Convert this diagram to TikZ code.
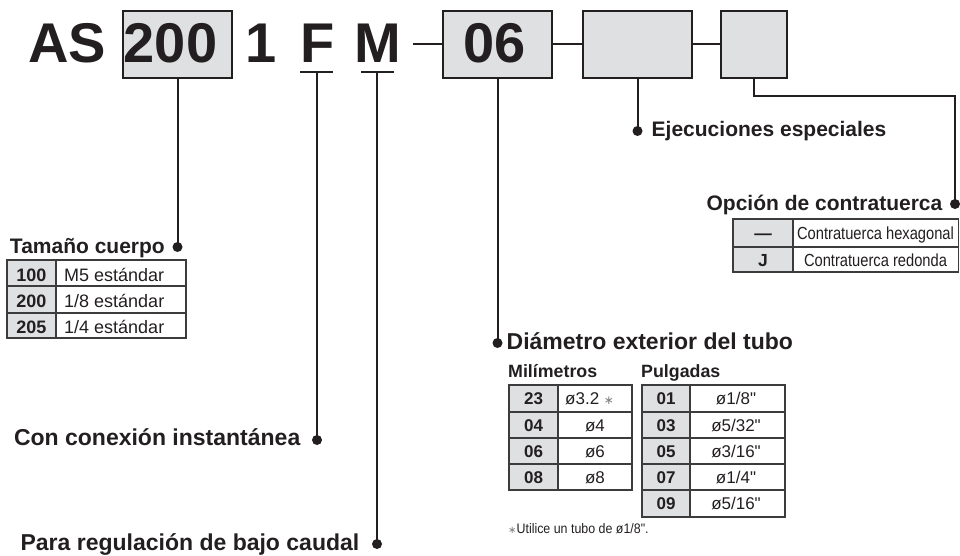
\documentclass[tikz,border=0pt]{standalone}
\usepackage{fontspec}
\setmainfont{Liberation Sans}[Ligatures=TeXOff]
\newfontfamily\narrowfont{Liberation Sans}[FakeStretch=0.84,Ligatures=TeXOff]
\newfontfamily\footfont{Liberation Sans}[FakeStretch=0.9,Ligatures=TeXOff]
\newfontfamily\symfont{DejaVu Sans}
\definecolor{ink}{HTML}{231F20}
\definecolor{cellgray}{HTML}{DFE0E2}
\definecolor{rulec}{HTML}{3C3C3C}
\definecolor{astc}{HTML}{808080}
\begin{document}
\begin{tikzpicture}[x=1pt,y=-1pt,
  codebox/.style={draw=ink,line width=2.1pt,fill=cellgray,minimum height=67pt,inner sep=0pt},
  big/.style={font=\fontsize{56}{56}\selectfont\bfseries,text=ink,inner sep=0pt,anchor=base},
  lbl/.style={font=\fontsize{21}{21}\selectfont\bfseries,text=ink,inner sep=0pt},
  lblbig/.style={font=\fontsize{23}{23}\selectfont\bfseries,text=ink,inner sep=0pt},
  sublbl/.style={font=\fontsize{17.8}{17.8}\selectfont\bfseries,text=ink,inner sep=0pt,anchor=base west},
  conn/.style={draw=ink,line width=2pt},
  tab/.style={draw=rulec,line width=1.4pt},
  tcell/.style={font=\fontsize{18}{18}\selectfont,text=ink,inner sep=0pt,anchor=base},
  tcellb/.style={font=\fontsize{18}{18}\selectfont\bfseries,text=ink,inner sep=0pt,anchor=base},
  mcell/.style={font=\fontsize{17}{17}\selectfont,text=ink,inner sep=0pt,anchor=base},
  mcellb/.style={font=\fontsize{17}{17}\selectfont\bfseries,text=ink,inner sep=0pt,anchor=base},
  ncell/.style={font=\fontsize{17.5}{17.5}\selectfont\narrowfont,text=ink,inner sep=0pt,anchor=base},
  ncellb/.style={font=\fontsize{17.5}{17.5}\selectfont\bfseries,text=ink,inner sep=0pt,anchor=base},
  dotc/.style={fill=ink}
]
\useasboundingbox (0,0) rectangle (960,556);

% ---- code boxes ----
\node[codebox,minimum width=109pt] (b200) at (177.5,44.5) {};
\node[codebox,minimum width=109pt] (b06) at (497.5,44.5) {};
\node[codebox,minimum width=109pt] (bx1) at (637.5,44.5) {};
\node[codebox,minimum width=66pt] (bx2) at (754,44.5) {};

% ---- big header text ----
\node[big] (tAS) at (67,63) {AS};
\node[big] (t200) at (170.5,63) {200};
\node[big] (t1) at (261.5,63) {1};
\node[big] (tF) at (317.5,63) {F};
\node[big] (tM) at (378,63) {M};
\node[big] (t06) at (495,63) {06};

% ---- connectors between boxes ----
\coordinate (dashL) at (413,44.5);
\draw[conn] (dashL) -- (b06.west);
\draw[conn] (b06.east) -- (bx1.west);
\draw[conn] (bx1.east) -- (bx2.west);

% ---- underlines ----
\coordinate (uFl) at (300,72); \coordinate (uFr) at (333,72); \coordinate (uF) at (317,72);
\coordinate (uMl) at (361,72); \coordinate (uMr) at (394,72); \coordinate (uM) at (377,72);
\draw[conn] (uFl) -- (uFr);
\draw[conn] (uMl) -- (uMr);

% ---- leader lines and dots ----
\coordinate (dT) at (177.5,247);
\coordinate (dF) at (317,440);
\coordinate (dM) at (377,544);
\coordinate (dD) at (497.5,343);
\coordinate (dE) at (637.5,131);
\coordinate (e1) at (754,96);
\coordinate (e2) at (955,96);
\coordinate (dO) at (955,204);
\draw[conn] (b200.south) -- (dT);
\draw[conn] (uF) -- (dF);
\draw[conn] (uM) -- (dM);
\draw[conn] (b06.south) -- (dD);
\draw[conn] (bx1.south) -- (dE);
\draw[conn] (bx2.south) -- (e1) -- (e2) -- (dO);
\foreach \d in {dT,dF,dM,dD,dE,dO} \fill[dotc] (\d) circle (5pt);

% ---- labels ----
\node[lbl,anchor=base east] (lT) at (165,253) {Tamaño cuerpo};
\node[lblbig,anchor=base east] (lF) at (300.5,445) {Con conexión instantánea};
\node[lblbig,anchor=base east] (lM) at (359.5,550) {Para regulación de bajo caudal};
\node[lblbig,anchor=base west] (lD) at (506.5,349) {Diámetro exterior del tubo};
\node[lbl,anchor=base west] (lE) at (651.5,137) {Ejecuciones especiales};
\node[lbl,anchor=base east] (lO) at (942.5,210) {Opción de contratuerca};
\node[sublbl] (lMil) at (508,377) {Milímetros};
\node[sublbl] (lPul) at (641,377) {Pulgadas};

% ---- table: Tamaño cuerpo ----
\fill[cellgray] (7,260) rectangle (56,338);
\draw[tab] (56,260) -- (56,338);
\draw[tab] (7,286) -- (186,286);
\draw[tab] (7,313) -- (186,313);
\draw[tab] (7,260) rectangle (186,338);
\node[tcellb] (s100) at (31.5,281) {100};
\node[tcellb] (s200) at (31.5,307.5) {200};
\node[tcellb] (s205) at (31.5,333.5) {205};
\node[tcell,anchor=base west] (v100) at (64,281) {M5 estándar};
\node[tcell,anchor=base west] (v200) at (64,307.5) {1/8 estándar};
\node[tcell,anchor=base west] (v205) at (64,333.5) {1/4 estándar};

% ---- table: Milímetros ----
\fill[cellgray] (509,385) rectangle (558,490);
\draw[tab] (558,385) -- (558,490);
\draw[tab] (509,412) -- (632,412);
\draw[tab] (509,438) -- (632,438);
\draw[tab] (509,464) -- (632,464);
\draw[tab] (509,385) rectangle (632,490);
\node[mcellb] (m23) at (533.5,404.5) {23};
\node[mcellb] (m04) at (533.5,431) {04};
\node[mcellb] (m06) at (533.5,457) {06};
\node[mcellb] (m08) at (533.5,483) {08};
\node[mcell,anchor=base west] (w23) at (565,404.5) {ø3.2 {\color{astc}\fontsize{12}{12}\selectfont\symfont ∗}};
\node[mcell] (w04) at (595,431) {ø4};
\node[mcell] (w06) at (595,457) {ø6};
\node[mcell] (w08) at (595,483) {ø8};

% ---- table: Pulgadas ----
\fill[cellgray] (642,385) rectangle (690,517);
\draw[tab] (690,385) -- (690,517);
\draw[tab] (642,412) -- (785,412);
\draw[tab] (642,438) -- (785,438);
\draw[tab] (642,464) -- (785,464);
\draw[tab] (642,490) -- (785,490);
\draw[tab] (642,385) rectangle (785,517);
\node[mcellb] (p01) at (666,404.5) {01};
\node[mcellb] (p03) at (666,431) {03};
\node[mcellb] (p05) at (666,457) {05};
\node[mcellb] (p07) at (666,483) {07};
\node[mcellb] (p09) at (666,509.5) {09};
\node[mcell] (q01) at (736,404.5) {ø1/8"};
\node[mcell] (q03) at (736,431) {ø5/32"};
\node[mcell] (q05) at (736,457) {ø3/16"};
\node[mcell] (q07) at (736,483) {ø1/4"};
\node[mcell] (q09) at (736,509.5) {ø5/16"};

% ---- footnote ----
\node[font=\fontsize{13.8}{13.8}\selectfont\footfont,text=ink,inner sep=0pt,anchor=base west] (fn) at (508,533)
  {{\color{astc}\fontsize{10}{10}\selectfont\symfont ∗}Utilice un tubo de ø1/8".};

% ---- table: Opción de contratuerca ----
\fill[cellgray] (733,219) rectangle (793,272);
\draw[tab] (793,219) -- (793,272);
\draw[tab] (733,247) -- (958.5,247);
\draw[tab] (733,219) rectangle (958.5,272);
\node[ncellb] (oH) at (763,239.5) {—};
\node[ncellb] (oJ) at (763,266) {J};
\node[ncell] (vH) at (875.5,239.5) {Contratuerca hexagonal};
\node[ncell] (vJ) at (875.5,266) {Contratuerca redonda};
\end{tikzpicture}
\end{document}
